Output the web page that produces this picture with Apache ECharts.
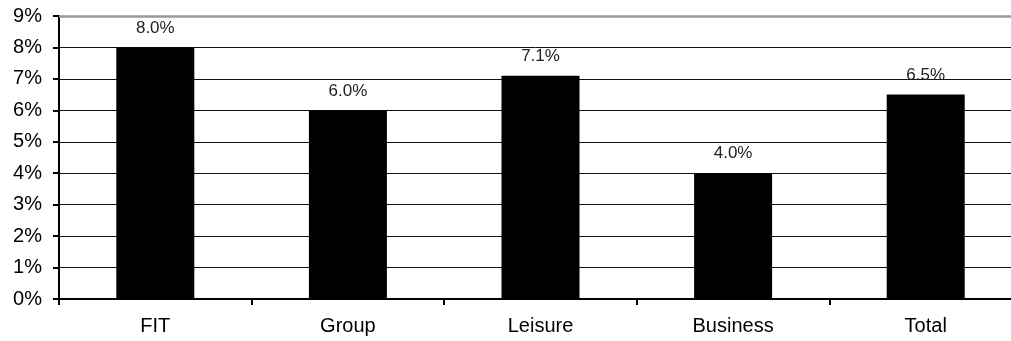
<!DOCTYPE html>
<html>
<head>
<meta charset="utf-8">
<script src="https://cdn.jsdelivr.net/npm/echarts@6/dist/echarts.min.js"></script>
<style>
  html, body { margin: 0; padding: 0; background: #fff; overflow: hidden; }
  #chart { width: 1011px; height: 341px; }
</style>
</head>
<body>
<div id="chart"></div>
<script>
// Growth rate by segment (%)
const categories = ['FIT', 'Group', 'Leisure', 'Business', 'Total'];
const growth = [8.0, 6.0, 7.1, 4.0, 6.5];
const yMin = 0;
const yMax = 9;
const yStep = 1;

const axisFont = 'Liberation Sans, Arial, sans-serif';

const chart = echarts.init(document.getElementById('chart'));

chart.setOption({
  animation: false,
  backgroundColor: '#ffffff',
  // plot area runs a little past the right edge of the canvas
  grid: { left: 59, width: 963, top: 16, bottom: 42, containLabel: false, outerBoundsMode: 'none' },
  xAxis: {
    type: 'category',
    data: categories,
    boundaryGap: true,
    axisLine: { lineStyle: { color: '#000', width: 2 } },
    axisTick: { show: true, alignWithLabel: false, length: 6, lineStyle: { color: '#000', width: 2 } },
    axisLabel: { color: '#000', fontFamily: axisFont, fontSize: 20, margin: 17 },
    splitLine: { show: false }
  },
  yAxis: {
    type: 'value',
    min: yMin,
    max: yMax,
    interval: yStep,
    axisLine: { show: true, lineStyle: { color: '#000', width: 2 } },
    axisTick: { show: true, length: 6, lineStyle: { color: '#000', width: 2 } },
    axisLabel: {
      color: '#000',
      fontFamily: axisFont,
      fontSize: 20,
      margin: 17,
      formatter: v => v + '%'
    },
    splitLine: {
      show: true,
      lineStyle: { color: '#111', width: 1 }
    }
  },
  series: [{
    type: 'bar',
    data: growth,
    barWidth: 78,
    itemStyle: { color: '#000' },
    label: {
      show: true,
      position: 'top',
      distance: 11,
      color: '#222',
      fontFamily: axisFont,
      fontSize: 17,
      formatter: p => p.value.toFixed(1) + '%'
    },
    markLine: {
      silent: true,
      symbol: 'none',
      label: { show: false },
      lineStyle: { color: '#999', width: 2.5, type: 'solid' },
      data: [{ yAxis: yMax }]
    }
  }]
});
</script>
</body>
</html>
